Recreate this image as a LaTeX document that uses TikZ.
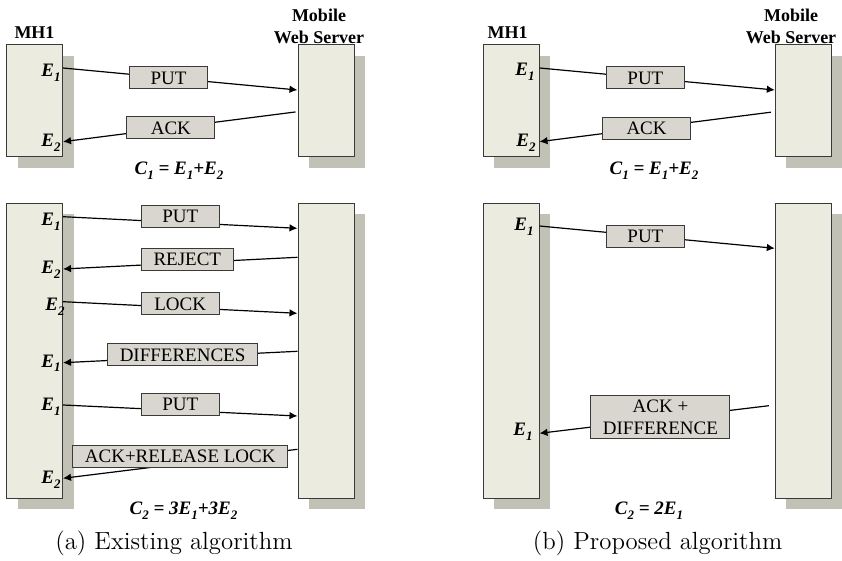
\documentclass[tikz,border=0pt]{standalone}
\usepackage{fontspec}
\newfontfamily\tnr{Liberation Serif}
\usetikzlibrary{arrows.meta,shadows}
\definecolor{lifefill}{HTML}{EBEBDF}
\definecolor{shadowgray}{HTML}{C1C1B5}
\definecolor{boxfill}{HTML}{D8D6CE}
\definecolor{edgegray}{HTML}{3A3A3A}
% subscripted event and cost symbols, set low as in the drawing
\newcommand{\lowsub}[1]{\raisebox{-0.55ex}{\fontsize{6.5}{6.5}\selectfont #1}}
\newcommand{\Ev}[1]{E\lowsub{#1}}
\newcommand{\Cv}[1]{C\lowsub{#1}}
\tikzset{
  life/.style ={draw=edgegray, fill=lifefill, line width=0.5pt,
                minimum width=28pt, inner sep=0pt,
                drop shadow={shadow xshift=5.5pt, shadow yshift=-5.5pt,
                             fill=shadowgray, opacity=1}},
  msg/.style  ={-{Latex[length=4pt,width=3.8pt]}, line width=0.6pt},
  mbox/.style ={draw=edgegray, fill=boxfill, line width=0.5pt,
                font=\tnr\fontsize{9.5}{11}\selectfont, inner xsep=6pt,
                inner ysep=2pt, minimum height=11pt, minimum width=39pt},
  evt/.style  ={font=\tnr\bfseries\itshape\fontsize{9.5}{11}\selectfont,
                inner sep=0pt, anchor=east},
  cost/.style ={font=\tnr\bfseries\itshape\fontsize{9.5}{11}\selectfont,
                inner sep=0pt},
  hdr/.style  ={font=\tnr\bfseries\fontsize{9}{11}\selectfont,
                inner sep=0pt, align=center},
  capt/.style ={font=\fontsize{12.4}{14}\selectfont, inner sep=0pt},
}
\begin{document}
\begin{tikzpicture}[x=0.5pt, y=-0.5pt]
\useasboundingbox (0,0) rectangle (842,561);

% lifelines
\node[life, minimum height=56pt]    (mhA)  at (34.5,101)   {};
\node[life, minimum height=56pt]    (srvA) at (326,101)    {};
\node[life, minimum height=147.5pt] (mhB)  at (34.5,350.8) {};
\node[life, minimum height=147.5pt] (srvB) at (326,350.8)  {};
\node[life, minimum height=56pt]    (mhC)  at (511,101)    {};
\node[life, minimum height=56pt]    (srvC) at (803.3,101)  {};
\node[life, minimum height=147.5pt] (mhD)  at (511,350.8)  {};
\node[life, minimum height=147.5pt] (srvD) at (803.3,350.8) {};

\node[hdr] (mhAlbl)  at (34.5,32.5) {MH1};
\node[hdr] (srvAlbl) at (319,26)    {Mobile\\Web Server};
\node[hdr] (mhClbl)  at (507.7,33)  {MH1};
\node[hdr] (srvClbl) at (791,26)    {Mobile\\Web Server};

% (a) single request, no conflict
\draw[msg] (mhA.east |- 0,68) -- node[mbox, pos=.45] {PUT} (srvA.west |- 0,90);
\draw[msg, shorten <=1pt] (srvA.west |- 0,111.7)
  -- node[mbox, pos=.54, minimum width=44pt] {ACK} (mhA.east |- 0,141.7);
\node[evt] (eA1) at (61,73)  {\Ev{1}};
\node[evt] (eA2) at (61,143) {\Ev{2}};
\node[cost] (cA) at (179,171) {\Cv{1} = \Ev{1}+\Ev{2}};

% (a) conflicting update, lock based
\draw[msg] (mhB.east |- 0,216.7)
  -- node[mbox, pos=.5, yshift=3pt] {PUT} (srvB.west |- 0,228.3);
\draw[msg] (srvB.west |- 0,257.3)
  -- node[mbox, pos=.47, yshift=1.6pt] {REJECT} (mhB.east |- 0,269);
\draw[msg] (mhB.east |- 0,301.7)
  -- node[mbox, pos=.5, yshift=1.8pt] {LOCK} (srvB.west |- 0,313.3);
\draw[msg] (srvB.west |- 0,351.3)
  -- node[mbox, pos=.49, yshift=1pt] {DIFFERENCES} (mhB.east |- 0,362.7);
\draw[msg] (mhB.east |- 0,405)
  -- node[mbox, pos=.5, yshift=3pt] {PUT} (srvB.west |- 0,416);
\draw[msg] (srvB.west |- 0,449.3)
  -- node[mbox, pos=.5, yshift=3.6pt] {ACK+RELEASE LOCK} (mhB.east |- 0,478.3);
\node[evt] (eB1) at (61,221.7) {\Ev{1}};
\node[evt] (eB2) at (61,270)   {\Ev{2}};
\node[evt] (eB3) at (65,306.7) {\Ev{2}};
\node[evt] (eB4) at (61,363.3) {\Ev{1}};
\node[evt] (eB5) at (61,406.7) {\Ev{1}};
\node[evt] (eB6) at (61,480)   {\Ev{2}};
\node[cost] (cB) at (183.5,511) {\Cv{2} = 3\Ev{1}+3\Ev{2}};

% (b) single request
\draw[msg] (mhC.east |- 0,68) -- node[mbox, pos=.45] {PUT} (srvC.west |- 0,90);
\draw[msg, shorten <=2pt] (srvC.west |- 0,111.7)
  -- node[mbox, pos=.545, minimum width=44pt] {ACK} (mhC.east |- 0,141.7);
\node[evt] (eC1) at (535,72)  {\Ev{1}};
\node[evt] (eC2) at (536,143) {\Ev{2}};
\node[cost] (cC) at (654,171) {\Cv{1} = \Ev{1}+\Ev{2}};

% (b) conflicting update, merged reply
\draw[msg] (mhD.east |- 0,226) -- node[mbox, pos=.45] {PUT} (srvD.west |- 0,248.3);
\draw[msg, shorten <=3pt] (srvD.west |- 0,405)
  -- node[mbox, pos=.486, yshift=.9pt, align=center] {ACK +\\DIFFERENCE}
  (mhD.east |- 0,433.3);
\node[evt] (eD1) at (534,226.7) {\Ev{1}};
\node[evt] (eD2) at (533,431.7) {\Ev{1}};
\node[cost] (cD) at (649,511) {\Cv{2} = 2\Ev{1}};

\node[capt] (capA) at (174,543)   {(a) Existing algorithm};
\node[capt] (capB) at (657.7,543) {(b) Proposed algorithm};
\end{tikzpicture}
\end{document}
